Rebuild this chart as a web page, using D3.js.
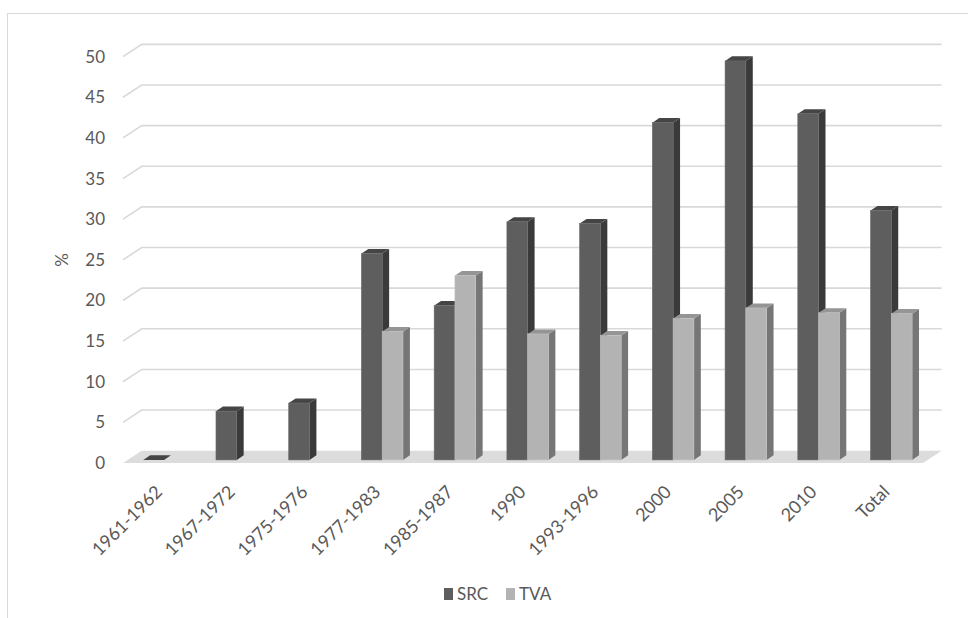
<!DOCTYPE html>
<html>
<head>
<meta charset="utf-8">
<script src="https://cdn.jsdelivr.net/npm/d3@7"></script>
<style>
  html, body { margin: 0; padding: 0; background: #fff; }
  svg { display: block; font-family: Lato, "Open Sans", sans-serif; }
</style>
</head>
<body>
<svg id="chart" width="968" height="618"></svg>
<script>
// Share (%) by period, two series
const categories = ["1961-1962", "1967-1972", "1975-1976", "1977-1983", "1985-1987",
                    "1990", "1993-1996", "2000", "2005", "2010", "Total"];
const seriesNames = ["SRC", "TVA"];
const srcValues = [0, 6.0, 7.0, 25.4, 19.0, 29.3, 29.1, 41.5, 49.1, 42.6, 30.7];
const tvaValues = [null, null, null, 15.8, 22.7, 15.5, 15.3, 17.4, 18.7, 18.1, 18.0];
const yTicks = [0, 5, 10, 15, 20, 25, 30, 35, 40, 45, 50];

const svg = d3.select("#chart");
const textColor = "#595959";

// Oblique 3D frame: floor front edge, depth vector to the back wall
const floorLeft = 123, floorRight = 923, floorFrontY = 463;
const depth = { dx: 18.7, dy: 12.3 };
const barFront = 0.25, barBack = 0.62;   // depth fractions occupied by the columns

const x = d3.scaleBand().domain(categories).range([floorLeft, floorRight]).paddingInner(0).paddingOuter(0);
const xSub = d3.scaleBand().domain(seriesNames).range([0, x.bandwidth()]).paddingInner(0).paddingOuter(0.75);
const y = d3.scaleLinear().domain([0, 50]).range([floorFrontY, floorFrontY - 50 * 8.127]);

// chart frame
svg.append("rect")
  .attr("x", 7.5).attr("y", 13.5).attr("width", 980).attr("height", 640)
  .attr("fill", "none").attr("stroke", "#d9d9d9").attr("stroke-width", 1);

// back wall gridlines and side-wall diagonals
const grid = svg.append("g").attr("stroke", "#d9d9d9").attr("stroke-width", 1.6).attr("fill", "none");
yTicks.filter(v => v > 0).forEach(v => {
  const yf = y(v), yb = y(v) - depth.dy;
  grid.append("path")
    .attr("d", `M${floorLeft},${yf}L${floorLeft + depth.dx},${yb}L${floorRight + depth.dx},${yb}`);
});

// floor
svg.append("path")
  .attr("d", `M${floorLeft},${floorFrontY}L${floorRight},${floorFrontY}` +
             `L${floorRight + depth.dx},${floorFrontY - depth.dy}L${floorLeft + depth.dx},${floorFrontY - depth.dy}Z`)
  .attr("fill", "#dcdcdc");

// columns
const styles = {
  SRC: { front: "#5e5e5e", side: "#3a3a3a", top: "#454545", edge: "#6a6a6a" },
  TVA: { front: "#b3b3b3", side: "#767676", top: "#959595", edge: "#c2c2c2" }
};
const rows = [];
categories.forEach((c, i) => {
  rows.push({ cat: c, series: "SRC", value: srcValues[i] });
  if (tvaValues[i] != null) rows.push({ cat: c, series: "TVA", value: tvaValues[i] });
});

const fx = barFront * depth.dx, fy = barFront * depth.dy;
const bdx = (barBack - barFront) * depth.dx, bdy = (barBack - barFront) * depth.dy;
const w = xSub.bandwidth();

const bars = svg.append("g").selectAll("g").data(rows).join("g");
bars.each(function(d) {
  const g = d3.select(this);
  const s = styles[d.series];
  const x0 = x(d.cat) + xSub(d.series) + fx;
  const yTop = y(d.value) - fy, yBot = y(0) - fy;
  // side face
  g.append("path")
    .attr("d", `M${x0 + w},${yTop}L${x0 + w + bdx},${yTop - bdy}L${x0 + w + bdx},${yBot - bdy}L${x0 + w},${yBot}Z`)
    .attr("fill", s.side);
  // top face
  g.append("path")
    .attr("d", `M${x0},${yTop}L${x0 + bdx},${yTop - bdy}L${x0 + w + bdx},${yTop - bdy}L${x0 + w},${yTop}Z`)
    .attr("fill", s.top);
  // front face
  if (yBot - yTop > 0) {
    g.append("rect")
      .attr("x", x0).attr("y", yTop).attr("width", w).attr("height", yBot - yTop)
      .attr("fill", s.front).attr("stroke", s.edge).attr("stroke-width", 0.6);
  }
});

// value axis labels
const yAxis = svg.append("g")
  .attr("transform", "translate(108,0)")
  .call(d3.axisLeft(y).tickValues(yTicks).tickSize(0).tickPadding(3));
yAxis.select(".domain").remove();
yAxis.selectAll("text")
  .attr("fill", textColor).attr("font-size", 17).attr("font-family", "Lato, sans-serif");

// axis title
svg.append("text")
  .attr("transform", "translate(68,260) rotate(-90)")
  .attr("text-anchor", "middle")
  .attr("fill", textColor).attr("font-size", 17)
  .text("%");

// category labels
const xAxis = svg.append("g")
  .attr("transform", `translate(0,${floorFrontY})`)
  .call(d3.axisBottom(x).tickSize(0).tickPadding(0));
xAxis.select(".domain").remove();
xAxis.selectAll("text")
  .attr("fill", textColor).attr("font-size", 18).attr("font-family", "Lato, sans-serif")
  .attr("text-anchor", "end")
  .attr("y", 0).attr("dy", 0)
  .attr("transform", "translate(4,30) rotate(-45)");

// legend
const legend = svg.append("g").attr("transform", "translate(444,594)");
const legendItems = [
  { name: "SRC", color: styles.SRC.front, x: 0 },
  { name: "TVA", color: styles.TVA.front, x: 62 }
];
legendItems.forEach(it => {
  legend.append("rect").attr("x", it.x).attr("y", -6).attr("width", 9).attr("height", 12).attr("fill", it.color);
  legend.append("text").attr("x", it.x + 13).attr("y", 0).attr("dy", "0.36em")
    .attr("fill", textColor).attr("font-size", 17).text(it.name);
});
</script>
</body>
</html>
